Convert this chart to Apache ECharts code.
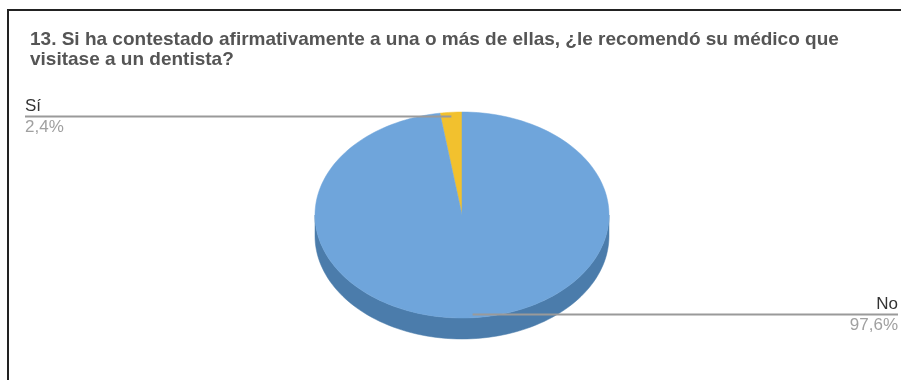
<!DOCTYPE html>
<html>
<head>
<meta charset="utf-8">
<style>
  html, body { margin: 0; padding: 0; background: #ffffff; }
  #chart { width: 901px; height: 380px; }
</style>
<script src="https://cdn.jsdelivr.net/npm/echarts@6/dist/echarts.min.js"></script>
</head>
<body>
<div id="chart"></div>
<script>
// Survey answers and their shares (%)
const categories = ['Sí', 'No'];
const values = [2.4, 97.6];
const valueLabels = ['2,4%', '97,6%'];
const titleText = '13. Si ha contestado afirmativamente a una o más de ellas, ¿le recomendó su médico que\nvisitase a un dentista?';

// Layout of the tilted pie (screen pixels)
const CX = 462, CY = 215, RX = 147, RY = 103, DEPTH = 21;
const topColors = ['#f2c12e', '#6fa5db'];
const sideColors = ['#c89a1e', '#4b7cab'];

// Slices run counter-clockwise from 12 o'clock; angles are in degrees,
// measured clockwise from the top of the pie.
const total = values.reduce((a, b) => a + b, 0);
const sliceAngles = [];
{
  let cum = 0;
  values.forEach(v => {
    const s = 360 - (cum + v) / total * 360;
    const e = 360 - cum / total * 360;
    sliceAngles.push([s, e]);
    cum += v;
  });
}

function pt(deg, k) {
  const r = deg * Math.PI / 180;
  return [CX + k * RX * Math.sin(r), CY - k * RY * Math.cos(r)];
}

function arcPoints(s, e, k) {
  const pts = [];
  const n = Math.max(2, Math.ceil((e - s) / 2));
  for (let i = 0; i <= n; i++) pts.push(pt(s + (e - s) * i / n, k));
  return pts;
}

// Front wall of the disc (only the half facing the viewer is visible)
function renderSide(params, api) {
  const [s, e] = sliceAngles[params.dataIndex];
  const a = Math.max(s, 90), b = Math.min(e, 270);
  if (b <= a) return { type: 'group', children: [] };
  const upper = arcPoints(a, b, 1);
  const lower = upper.slice().reverse().map(p => [p[0], p[1] + DEPTH]);
  return {
    type: 'polygon',
    shape: { points: upper.concat(lower) },
    style: { fill: sideColors[params.dataIndex], stroke: sideColors[params.dataIndex], lineWidth: 0.5 }
  };
}

// Top face of each slice
function renderTop(params, api) {
  const [s, e] = sliceAngles[params.dataIndex];
  const pts = [[CX, CY]].concat(arcPoints(s, e, 1));
  return {
    type: 'polygon',
    shape: { points: pts },
    style: { fill: topColors[params.dataIndex], stroke: topColors[params.dataIndex], lineWidth: 0.5 }
  };
}

// Leader lines with name and percentage stacked around them
function renderLabel(params, api) {
  const i = params.dataIndex;
  const [s, e] = sliceAngles[i];
  const mid = (s + e) / 2;
  const anchor = pt(mid, 0.96);
  const y = Math.round(anchor[1]) + 0.5;
  const leftSide = Math.sin(mid * Math.PI / 180) < 0;
  const edgeX = leftSide ? 25 : 898;
  const align = leftSide ? 'left' : 'right';
  return {
    type: 'group',
    children: [
      {
        type: 'line',
        shape: { x1: anchor[0], y1: y, x2: edgeX, y2: y },
        style: { stroke: '#9a9a9a', lineWidth: 2 }
      },
      {
        type: 'text',
        style: {
          text: categories[i], x: edgeX, y: y - 2, align: align, verticalAlign: 'bottom',
          fill: '#333333', font: '17px "Liberation Sans", Arial, sans-serif'
        }
      },
      {
        type: 'text',
        style: {
          text: valueLabels[i], x: edgeX, y: y + 2, align: align, verticalAlign: 'top',
          fill: '#a0a0a0', font: '17px "Liberation Sans", Arial, sans-serif'
        }
      }
    ]
  };
}

const chart = echarts.init(document.getElementById('chart'), null, { renderer: 'canvas' });
chart.setOption({
  backgroundColor: '#ffffff',
  animation: false,
  title: {
    text: titleText,
    left: 25,
    top: 25,
    textStyle: {
      fontFamily: '"Liberation Sans", Arial, sans-serif',
      fontSize: 19,
      fontWeight: 'bold',
      color: '#555555',
      lineHeight: 20
    }
  },
  graphic: [{
    type: 'rect',
    shape: { x: 8, y: 10, width: 1000, height: 500 },
    style: { fill: 'none', stroke: '#222222', lineWidth: 2 },
    silent: true,
    z: 100
  }],
  series: [
    { type: 'custom', coordinateSystem: 'none', data: values, renderItem: renderSide, z: 1 },
    { type: 'custom', coordinateSystem: 'none', data: values, renderItem: renderTop, z: 2 },
    { type: 'custom', coordinateSystem: 'none', data: values, renderItem: renderLabel, z: 3 }
  ]
});
</script>
</body>
</html>
